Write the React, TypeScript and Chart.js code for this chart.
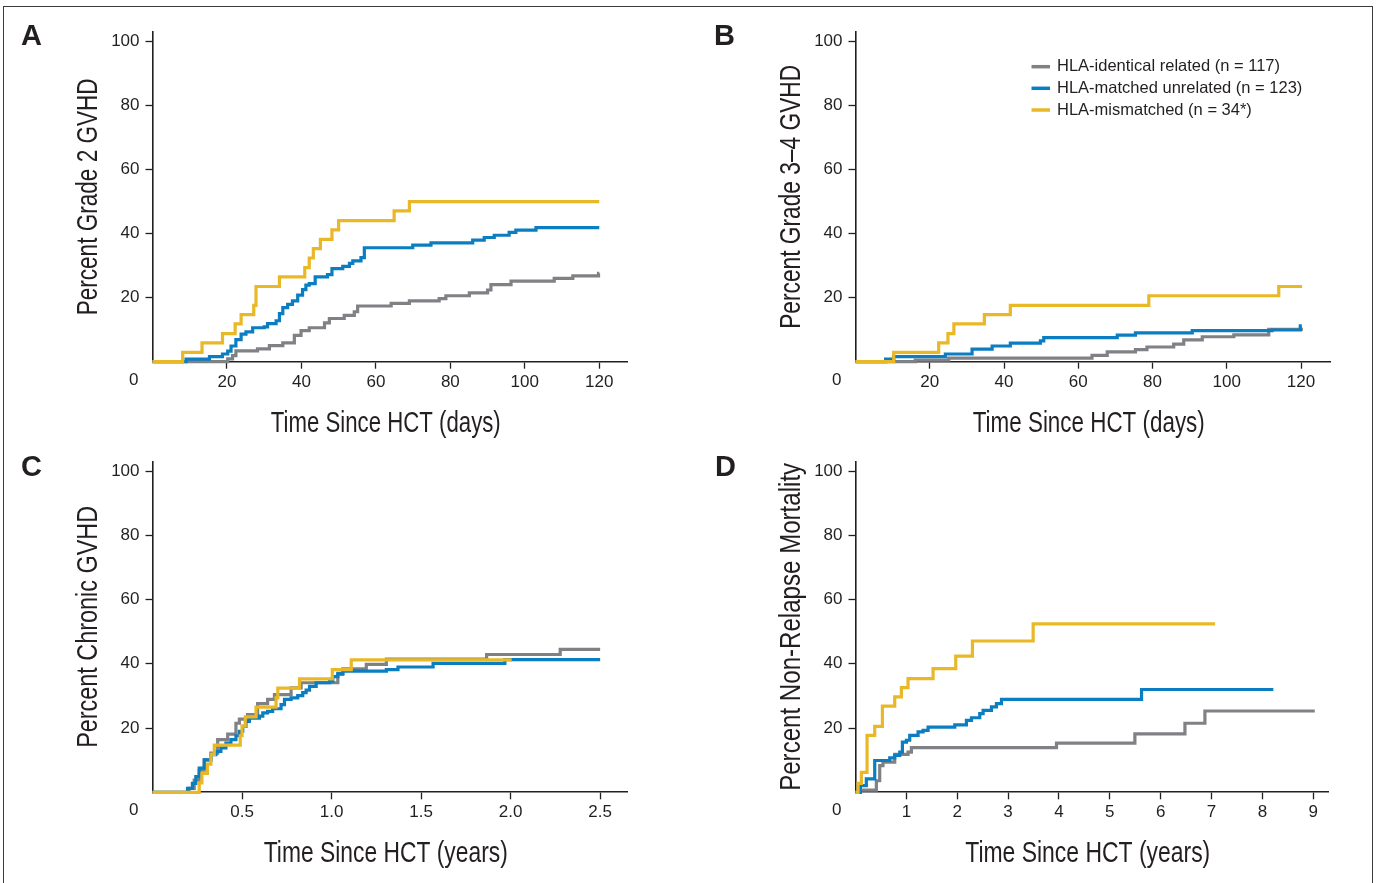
import React, { useEffect, useRef } from 'react';
import { Chart, registerables } from 'chart.js';
Chart.register(...registerables);

const GRAY = '#808184';
const BLUE = '#0b7dc1';
const YELLOW = '#e9b826';
const INK = '#231f20';

const seriesLabels = [
  'HLA-identical related (n = 117)',
  'HLA-matched unrelated (n = 123)',
  'HLA-mismatched (n = 34*)',
];

const percentTicks = [20, 40, 60, 80, 100];
const dayTicks = [20, 40, 60, 80, 100, 120];
const yearTicksC = [0.5, 1.0, 1.5, 2.0, 2.5];
const yearTicksD = [1, 2, 3, 4, 5, 6, 7, 8, 9];

// Panel A: Grade 2 GVHD (days)
const aGrayT = [0, 20.2, 21.5, 22.4, 28.2, 31.4, 35.0, 38.1, 39.9, 42.1, 46.2, 47.5, 51.5, 54.2, 55.1, 64.1, 69.0, 77.0, 78.8, 85.1, 90.0, 90.9, 96.3, 107.9, 112.9, 119.8, 120];
const aGrayV = [0, 0.9, 1.9, 3.4, 4.0, 5.0, 5.9, 8.2, 9.7, 10.6, 12.1, 13.5, 14.5, 15.6, 17.4, 18.2, 19.0, 19.7, 20.6, 21.5, 22.4, 24.1, 25.2, 26.0, 26.8, 27.6, 27.6];
const aBlueT = [0, 9.0, 15.3, 18.8, 20.2, 21.1, 22.4, 23.8, 25.1, 26.9, 30.0, 30.9, 33.2, 34.1, 35.0, 36.3, 37.6, 39.0, 40.3, 41.2, 42.1, 43.7, 47.0, 48.2, 51.1, 52.9, 53.8, 56.0, 56.9, 69.9, 74.8, 86.0, 89.1, 91.8, 95.8, 97.6, 103.0, 120];
const aBlueV = [0, 0.8, 1.6, 2.4, 3.3, 4.9, 6.9, 8.6, 9.3, 10.6, 10.9, 11.9, 12.8, 15.0, 16.9, 17.9, 19.0, 20.8, 22.5, 23.9, 24.4, 26.5, 27.2, 29.1, 29.8, 30.7, 31.5, 32.5, 35.6, 36.4, 37.1, 38.0, 38.8, 39.5, 40.4, 41.1, 41.9, 41.9];
const aYellowT = [0, 8.1, 13.3, 18.8, 22.2, 23.8, 27.2, 27.8, 34.1, 40.9, 42.1, 43.2, 45.1, 48.2, 50.0, 64.9, 69.0, 120];
const aYellowV = [0, 2.9, 5.9, 8.8, 11.8, 14.7, 17.6, 23.5, 26.5, 29.4, 32.4, 35.3, 38.2, 41.2, 44.1, 47.1, 50.0, 50.0];

// Panel B: Grade 3-4 GVHD (days)
const bGrayT = [0, 16.1, 25.1, 63.7, 67.8, 75.4, 78.5, 85.7, 88.4, 93.4, 101.9, 111.3, 120.5];
const bGrayV = [0, 0.5, 1.1, 2.0, 3.1, 3.8, 4.6, 5.5, 6.8, 7.8, 8.4, 10.1, 10.1];
const bBlueT = [0, 8.1, 10.3, 24.2, 31.4, 36.8, 41.7, 49.8, 50.7, 70.5, 75.4, 90.7, 112.2, 119.8, 120.2];
const bBlueV = [0, 0.8, 1.6, 2.4, 3.9, 4.9, 5.8, 6.5, 7.5, 8.3, 9.0, 9.7, 9.9, 11.2, 11.2];
const bYellowT = [0, 10.3, 22.4, 24.9, 26.5, 34.7, 41.7, 79.0, 114.0, 120.3];
const bYellowV = [0, 2.9, 5.9, 8.8, 11.8, 14.7, 17.6, 20.6, 23.5, 23.5];

// Panel C: Chronic GVHD (years)
const cGrayT = [0, 0.205, 0.233, 0.261, 0.289, 0.326, 0.364, 0.420, 0.466, 0.485, 0.531, 0.587, 0.643, 0.681, 0.774, 0.830, 1.035, 1.063, 1.194, 1.306, 1.866, 2.277, 2.5];
const cGrayV = [0, 1.2, 3.8, 6.9, 10.1, 12.2, 16.4, 18.1, 21.5, 22.8, 24.2, 27.6, 28.9, 30.4, 32.5, 34.1, 36.7, 38.4, 39.8, 41.5, 42.9, 44.5, 44.5];
const cBlueT = [0, 0.196, 0.223, 0.242, 0.261, 0.289, 0.326, 0.354, 0.382, 0.410, 0.438, 0.466, 0.485, 0.504, 0.522, 0.541, 0.597, 0.616, 0.643, 0.671, 0.718, 0.737, 0.774, 0.811, 0.839, 0.858, 0.877, 0.914, 0.989, 1.007, 1.035, 1.063, 1.306, 1.371, 1.567, 1.968, 2.5];
const cBlueV = [0, 1.2, 2.8, 4.9, 7.5, 10.1, 11.7, 12.7, 13.8, 15.3, 16.4, 17.6, 19.0, 20.5, 22.1, 23.1, 23.7, 24.7, 25.2, 26.0, 27.3, 28.9, 29.4, 30.1, 31.0, 31.8, 33.0, 34.1, 34.6, 36.0, 37.0, 37.7, 38.2, 39.0, 40.1, 41.3, 41.3];
const cYellowT = [0, 0.261, 0.276, 0.307, 0.326, 0.345, 0.49, 0.50, 0.518, 0.578, 0.69, 0.70, 0.821, 1.004, 1.110, 2.006];
const cYellowV = [0, 2.9, 5.9, 8.8, 11.8, 14.7, 17.6, 20.6, 23.5, 26.5, 29.4, 32.4, 35.3, 38.2, 41.2, 41.2];

// Panel D: Non-relapse mortality (years)
const dGrayT = [0, 0.096, 0.410, 0.476, 0.54, 0.771, 1.033, 1.099, 3.952, 5.493, 6.477, 6.870, 9.03];
const dGrayV = [0, 0.7, 3.6, 8.3, 9.4, 11.8, 12.5, 13.9, 15.3, 18.2, 21.5, 25.3, 25.3];
const dBlueT = [0, 0.096, 0.213, 0.378, 0.673, 0.771, 0.870, 0.922, 1.001, 1.066, 1.230, 1.329, 1.427, 1.952, 2.181, 2.280, 2.443, 2.509, 2.673, 2.771, 2.870, 5.624, 8.215];
const dBlueV = [0, 2.1, 4.2, 9.9, 10.7, 11.5, 12.5, 15.6, 16.2, 17.7, 18.8, 19.3, 20.3, 21.0, 22.4, 23.2, 24.5, 25.5, 26.6, 27.6, 28.9, 32.0, 32.0];
const dYellowT = [0, 0.05, 0.115, 0.227, 0.378, 0.529, 0.771, 0.902, 1.033, 1.525, 1.971, 2.299, 3.493, 7.07];
const dYellowV = [0, 2.8, 6.2, 17.7, 20.5, 26.8, 29.7, 32.6, 35.4, 38.5, 42.4, 47.1, 52.4, 52.4];

const TICK_FONT = { family: "'Liberation Sans', Arial, sans-serif", size: 17 };
const TITLE_CSS = "29px 'Liberation Sans', Arial, sans-serif";

type Panel = {
  letter: string;
  left: number; top: number; width: number; height: number;
  padTop: number; padRight: number; yAxisWidth: number; xAxisHeight: number;
  xMax: number; yMax: number;
  xTicks: number[]; xFmt: (v: number) => string;
  xTitle: string; yTitle: string; xTitleW: number; yTitleW: number; xTitleBase: number;
  letterX: number; letterY: number;
  gray: [number[], number[]]; blue: [number[], number[]]; yellow: [number[], number[]];
  legend: boolean;
};

const panels: Panel[] = [
  {
    letter: 'A', left: 0, top: 0, width: 660, height: 440,
    padTop: 32, padRight: 33, yAxisWidth: 152.5, xAxisHeight: 78.3,
    xMax: 127.45, yMax: 103, xTicks: dayTicks, xFmt: (v) => String(v),
    xTitle: 'Time Since HCT (days)', yTitle: 'Percent Grade 2 GVHD', xTitleW: 230, yTitleW: 237, xTitleBase: 431.7,
    letterX: 21, letterY: 45,
    gray: [aGrayT, aGrayV], blue: [aBlueT, aBlueV], yellow: [aYellowT, aYellowV], legend: false,
  },
  {
    letter: 'B', left: 703, top: 0, width: 660, height: 440,
    padTop: 32, padRight: 33, yAxisWidth: 152.5, xAxisHeight: 78.3,
    xMax: 127.8, yMax: 103, xTicks: dayTicks, xFmt: (v) => String(v),
    xTitle: 'Time Since HCT (days)', yTitle: 'Percent Grade 3\u20134 GVHD', xTitleW: 232, yTitleW: 264, xTitleBase: 431.7,
    letterX: 11, letterY: 45,
    gray: [bGrayT, bGrayV], blue: [bBlueT, bBlueV], yellow: [bYellowT, bYellowV], legend: true,
  },
  {
    letter: 'C', left: 0, top: 430, width: 660, height: 453,
    padTop: 31.4, padRight: 33, yAxisWidth: 152.5, xAxisHeight: 90.7,
    xMax: 2.65, yMax: 103, xTicks: yearTicksC, xFmt: (v) => v.toFixed(1),
    xTitle: 'Time Since HCT (years)', yTitle: 'Percent Chronic GVHD', xTitleW: 244, yTitleW: 242, xTitleBase: 432.3,
    letterX: 21, letterY: 46,
    gray: [cGrayT, cGrayV], blue: [cBlueT, cBlueV], yellow: [cYellowT, cYellowV], legend: false,
  },
  {
    letter: 'D', left: 703, top: 430, width: 660, height: 453,
    padTop: 31.4, padRight: 35, yAxisWidth: 152.5, xAxisHeight: 90.7,
    xMax: 9.29, yMax: 103, xTicks: yearTicksD, xFmt: (v) => String(v),
    xTitle: 'Time Since HCT (years)', yTitle: 'Percent Non-Relapse Mortality', xTitleW: 245, yTitleW: 328, xTitleBase: 432.3,
    letterX: 12, letterY: 46,
    gray: [dGrayT, dGrayV], blue: [dBlueT, dBlueV], yellow: [dYellowT, dYellowV], legend: false,
  },
];

const toPts = (t: number[], v: number[]) => t.map((x, i) => ({ x, y: v[i] }));

function drawCondensed(ctx: CanvasRenderingContext2D, text: string, cx: number, cy: number, target: number, rotate: boolean) {
  ctx.save();
  ctx.font = TITLE_CSS;
  const w = ctx.measureText(text).width;
  const sx = target / w;
  ctx.translate(cx, cy);
  if (rotate) ctx.rotate(-Math.PI / 2);
  ctx.scale(sx, 1);
  ctx.fillStyle = INK;
  ctx.textAlign = 'center';
  ctx.textBaseline = 'alphabetic';
  ctx.fillText(text, 0, 0);
  ctx.restore();
}

function PanelChart({ p }: { p: Panel }) {
  const ref = useRef<HTMLCanvasElement>(null);
  useEffect(() => {
    if (!ref.current) return;
    const decor = {
      id: 'decor',
      afterDraw(chart: any) {
        const ctx = chart.ctx as CanvasRenderingContext2D;
        const area = chart.chartArea;
        ctx.save();
        ctx.fillStyle = INK;
        ctx.font = "bold 29px 'Liberation Sans', Arial, sans-serif";
        ctx.textAlign = 'left';
        ctx.textBaseline = 'alphabetic';
        ctx.fillText(p.letter, p.letterX, p.letterY);
        ctx.font = "17px 'Liberation Sans', Arial, sans-serif";
        ctx.textAlign = 'right';
        ctx.textBaseline = 'top';
        ctx.fillText('0', area.left - 14, area.bottom + 10);
        if (p.legend) {
          const colors = [GRAY, BLUE, YELLOW];
          const rows = [66.7, 88.3, 110];
          ctx.font = "16.5px 'Liberation Sans', Arial, sans-serif";
          ctx.textAlign = 'left';
          ctx.textBaseline = 'middle';
          rows.forEach((y, i) => {
            ctx.strokeStyle = colors[i];
            ctx.lineWidth = 3.5;
            ctx.beginPath();
            ctx.moveTo(328.5, y);
            ctx.lineTo(347, y);
            ctx.stroke();
            ctx.fillStyle = INK;
            ctx.fillText(seriesLabels[i], 354, y);
          });
        }
        ctx.restore();
        drawCondensed(ctx, p.xTitle, (area.left + area.right) / 2 - 4, p.xTitleBase, p.xTitleW, false);
        drawCondensed(ctx, p.yTitle, 96.5, (area.top + area.bottom) / 2, p.yTitleW, true);
      },
    };
    const mk = (label: string, d: [number[], number[]], color: string, order: number) => ({
      label,
      data: toPts(d[0], d[1]),
      borderColor: color,
      backgroundColor: color,
      borderWidth: 3.2,
      stepped: 'before' as const,
      pointRadius: 0,
      fill: false,
      order,
      clip: false as any,
      borderCapStyle: 'butt' as const,
      borderJoinStyle: 'miter' as const,
    });
    const chart = new Chart(ref.current, {
      type: 'line',
      data: {
        datasets: [
          mk(seriesLabels[2], p.yellow, YELLOW, 0),
          mk(seriesLabels[1], p.blue, BLUE, 1),
          mk(seriesLabels[0], p.gray, GRAY, 2),
        ],
      },
      options: {
        responsive: false,
        animation: false,
        maintainAspectRatio: false,
        layout: { padding: { top: p.padTop, left: 0, right: p.padRight, bottom: 0 } },
        plugins: { legend: { display: false }, tooltip: { enabled: false } },
        scales: {
          x: {
            type: 'linear',
            min: 0,
            max: p.xMax,
            afterBuildTicks: (s: any) => { s.ticks = p.xTicks.map((v) => ({ value: v })); },
            afterFit: (s: any) => { s.height = p.xAxisHeight; },
            grid: { drawOnChartArea: false, drawTicks: true, tickLength: 7, tickWidth: 1.3, tickColor: INK },
            border: { display: true, color: INK, width: 1.6 },
            ticks: {
              autoSkip: false, maxRotation: 0, minRotation: 0, padding: 3, color: INK, font: TICK_FONT,
              callback: (v: any) => p.xFmt(Number(v)),
            },
            title: { display: false },
          },
          y: {
            type: 'linear',
            min: 0,
            max: p.yMax,
            afterBuildTicks: (s: any) => { s.ticks = percentTicks.map((v) => ({ value: v })); },
            afterFit: (s: any) => { s.width = p.yAxisWidth; },
            grid: { drawOnChartArea: false, drawTicks: true, tickLength: 7, tickWidth: 1.3, tickColor: INK },
            border: { display: true, color: INK, width: 1.6 },
            ticks: { autoSkip: false, padding: 6, color: INK, font: TICK_FONT, callback: (v: any) => String(v) },
            title: { display: false },
          },
        },
      },
      plugins: [decor],
    } as any);
    return () => chart.destroy();
  }, [p]);
  return (
    <canvas
      ref={ref}
      width={p.width}
      height={p.height}
      style={{ position: 'absolute', left: p.left, top: p.top, width: p.width, height: p.height, display: 'block' }}
    />
  );
}

export default function App() {
  return (
    <div style={{ position: 'absolute', left: 0, top: 0, width: 1377, height: 883, overflow: 'hidden', background: '#fff' }}>
      <div
        style={{
          position: 'absolute', left: 3, top: 6, width: 1370, height: 920,
          border: '1.5px solid #3a3a3a', boxSizing: 'border-box',
        }}
      />
      {panels.map((p) => (
        <PanelChart key={p.letter} p={p} />
      ))}
    </div>
  );
}
